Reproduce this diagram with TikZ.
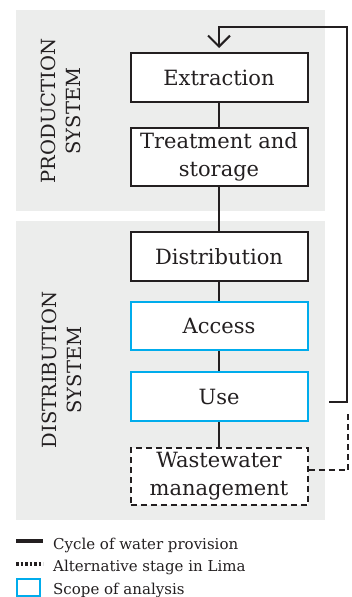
\documentclass[tikz,border=0pt]{standalone}
\usepackage{fontspec}
\setmainfont{DejaVu Serif}
\usetikzlibrary{arrows.meta,calc}
\definecolor{panel}{RGB}{236,237,236}
\definecolor{scope}{RGB}{0,172,236}
\definecolor{ink}{RGB}{35,31,32}
\begin{document}
\begin{tikzpicture}[x=1pt,y=-1pt,
  stage/.style={draw=ink, line width=2pt, fill=white, minimum width=177pt,
    inner sep=0pt, align=center, text=ink, font=\fontsize{21}{28}\selectfont},
  scopestage/.style={stage, draw=scope},
  altstage/.style={stage, dash pattern=on 6pt off 4pt},
  conn/.style={draw=ink, line width=2pt},
  altconn/.style={draw=ink, line width=2pt, dash pattern=on 6pt off 4pt},
  syslabel/.style={rotate=90, align=center, text=ink, font=\fontsize{19.5}{25}\selectfont},
  legtext/.style={anchor=base west, text=ink, inner sep=0pt, font=\fontsize{15}{18}\selectfont}]
\useasboundingbox (0,0) rectangle (352,597);
% panels
\fill[panel] (16,10) rectangle (325,211);
\fill[panel] (16,221) rectangle (325,520);
% system labels
\node[syslabel] (prodlabel) at (60.5,111) {PRODUCTION\\SYSTEM};
\node[syslabel] (distlabel) at (62,370) {DISTRIBUTION\\SYSTEM};
% stages
\node[stage, minimum height=49pt] (extraction) at (219,77.5) {Extraction};
\node[stage, minimum height=58pt] (treatment) at (219,157) {Treatment and\\storage};
\node[stage, minimum height=49pt] (distribution) at (219,256.5) {Distribution};
\node[scopestage, minimum height=48pt] (access) at (219,326) {Access};
\node[scopestage, minimum height=49pt] (use) at (219,396.5) {Use};
\node[altstage, minimum height=57pt] (waste) at (219,476.5) {Wastewater\\management};
% connectors
\draw[conn] (extraction) -- (treatment);
\draw[conn] (treatment) -- (distribution);
\draw[conn] (distribution) -- (access);
\draw[conn] (access) -- (use);
\draw[conn] (use) -- (waste);
% return loop
\coordinate (useout) at ($(use.east)+(20.5,5.5)$);
\coordinate (looptop) at ($(extraction.north)+(0,-25)$);
\coordinate (loopend) at ($(extraction.north)+(0,-4)$);
\draw[conn, -{Straight Barb[length=11pt,width=22pt,line width=2pt]}]
  (useout) -- ++(18,0) |- (looptop) -- (loopend);
\coordinate (wasteout) at ($(waste.east)+(0,-6.5)$);
\draw[altconn] (wasteout) -- ++(39.5,0) -- ++(0,-58);
% legend
\draw[line width=4pt, ink] (16,541) -- (43,541);
\node[legtext] (leg1) at (53,549.5) {Cycle of water provision};
\draw[line width=4pt, ink, dash pattern=on 2.5pt off 2pt] (16,563.5) -- (43,563.5);
\node[legtext] (leg2) at (53,571.5) {Alternative stage in Lima};
\draw[line width=2pt, scope] (17,579) rectangle (40,596);
\node[legtext] (leg3) at (53,594) {Scope of analysis};
\end{tikzpicture}
\end{document}
